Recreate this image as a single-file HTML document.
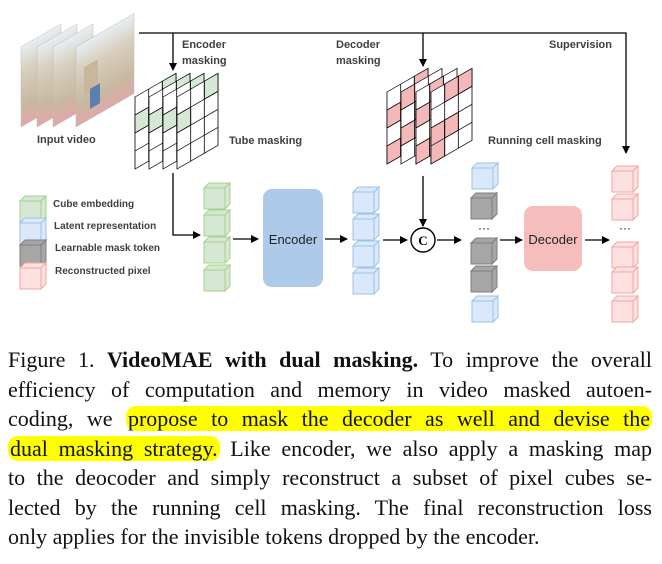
<!DOCTYPE html>
<html><head><meta charset="utf-8"><style>
body{margin:0;width:662px;height:564px;background:#fff;overflow:hidden;position:relative}
svg{position:absolute;left:0;top:0}
.lbl{font-family:"Liberation Sans",sans-serif;font-size:11px;font-weight:bold;fill:#404040}
.cap{position:absolute;left:8px;width:644px;font-family:"Liberation Serif",serif;font-size:22px;color:#111}
.ln{height:29.5px;line-height:29.5px;text-align:justify;text-align-last:justify;white-space:nowrap}
.hl{background:#ffff00;border-radius:10px;padding:0 2px}
</style></head><body>
<svg width="662" height="335" viewBox="0 0 662 335">
<defs>
<symbol id="cube" overflow="visible"><rect x="0" y="5" width="21" height="21"/><polygon points="0,5 5,0 26,0 21,5"/><polygon points="21,5 26,0 26,21 21,26"/></symbol>
<linearGradient id="vg" x1="0" y1="0" x2="0" y2="1"><stop offset="0" stop-color="#e8eef5"/><stop offset="0.3" stop-color="#d8d0c0"/><stop offset="0.75" stop-color="#c8b8a0"/><stop offset="1" stop-color="#e0a8a8"/></linearGradient>
<marker id="ar" markerWidth="8" markerHeight="8" refX="7" refY="4" orient="auto" markerUnits="userSpaceOnUse"><path d="M0,0 L8,4 L0,8 z" fill="#000"/></marker>
</defs>
<g transform="translate(21,127) skewY(-30)"><rect x="0" y="-80" width="40" height="80" fill="url(#vg)" stroke="#bbb" stroke-width="0.5"/></g>
<g transform="translate(37,127) skewY(-30)"><rect x="0" y="-80" width="40" height="80" fill="url(#vg)" stroke="#bbb" stroke-width="0.5"/></g>
<g transform="translate(53,127) skewY(-30)"><rect x="0" y="-80" width="40" height="80" fill="url(#vg)" stroke="#bbb" stroke-width="0.5"/></g>
<g transform="translate(76,127) skewY(-30)"><rect x="0" y="-80" width="58" height="80" fill="url(#vg)" stroke="#bbb" stroke-width="0.5"/><rect x="8" y="-55" width="14" height="30" fill="#c9b79a"/><rect x="14" y="-30" width="10" height="20" fill="#5a7fb0"/></g>
<text class="lbl" x="37" y="143">Input video</text>
<path d="M139,33 H626 V153" fill="none" stroke="#000" stroke-width="1.3" marker-end="url(#ar)"/>
<path d="M173,33 V70" stroke="#000" stroke-width="1.3" marker-end="url(#ar)"/>
<path d="M423,33 V66" stroke="#000" stroke-width="1.3" marker-end="url(#ar)"/>
<text class="lbl" x="182" y="48">Encoder</text><text class="lbl" x="182" y="64">masking</text>
<text class="lbl" x="336" y="48">Decoder</text><text class="lbl" x="336" y="64">masking</text>
<text class="lbl" x="549" y="48">Supervision</text>
<text class="lbl" x="229" y="144">Tube masking</text>
<text class="lbl" x="488" y="144">Running cell masking</text>
<g stroke="#000" stroke-width="0.8">
<g transform="translate(135,97) skewY(-30)"><rect width="41" height="72" fill="#fff"/><rect x="27.3" y="0" width="13.7" height="18" fill="#d5e8d4"/><rect x="0" y="18" width="13.7" height="18" fill="#d5e8d4"/><path d="M13.7,0V72M27.3,0V72M0,18H41M0,36H41M0,54H41" fill="none"/></g>
<g transform="translate(149,97) skewY(-30)"><rect width="41" height="72" fill="#fff"/><rect x="27.3" y="0" width="13.7" height="18" fill="#d5e8d4"/><rect x="0" y="18" width="13.7" height="18" fill="#d5e8d4"/><path d="M13.7,0V72M27.3,0V72M0,18H41M0,36H41M0,54H41" fill="none"/></g>
<g transform="translate(163,97) skewY(-30)"><rect width="41" height="72" fill="#fff"/><rect x="27.3" y="0" width="13.7" height="18" fill="#d5e8d4"/><rect x="0" y="18" width="13.7" height="18" fill="#d5e8d4"/><path d="M13.7,0V72M27.3,0V72M0,18H41M0,36H41M0,54H41" fill="none"/></g>
<g transform="translate(177,97) skewY(-30)"><rect width="41" height="72" fill="#fff"/><rect x="27.3" y="0" width="13.7" height="18" fill="#d5e8d4"/><rect x="0" y="18" width="13.7" height="18" fill="#d5e8d4"/><path d="M13.7,0V72M27.3,0V72M0,18H41M0,36H41M0,54H41" fill="none"/></g>
</g>
<g stroke="#000" stroke-width="0.8">
<g transform="translate(387,92) skewY(-30)"><rect width="41" height="72" fill="#fff"/><rect x="0" y="18" width="13.7" height="18" fill="#f4b8b8"/><rect x="0" y="54" width="13.7" height="18" fill="#f4b8b8"/><rect x="27.3" y="0" width="13.7" height="18" fill="#f4b8b8"/><rect x="27.3" y="36" width="13.7" height="18" fill="#f4b8b8"/><path d="M13.7,0V72M27.3,0V72M0,18H41M0,36H41M0,54H41" fill="none"/></g>
<g transform="translate(401,92) skewY(-30)"><rect width="41" height="72" fill="#fff"/><rect x="0" y="0" width="13.7" height="18" fill="#f4b8b8"/><rect x="0" y="36" width="13.7" height="18" fill="#f4b8b8"/><rect x="13.7" y="18" width="13.7" height="18" fill="#f4b8b8"/><rect x="27.3" y="54" width="13.7" height="18" fill="#f4b8b8"/><path d="M13.7,0V72M27.3,0V72M0,18H41M0,36H41M0,54H41" fill="none"/></g>
<g transform="translate(416,92) skewY(-30)"><rect width="41" height="72" fill="#fff"/><rect x="0" y="18" width="13.7" height="18" fill="#f4b8b8"/><rect x="0" y="54" width="13.7" height="18" fill="#f4b8b8"/><rect x="13.7" y="0" width="13.7" height="18" fill="#f4b8b8"/><rect x="27.3" y="36" width="13.7" height="18" fill="#f4b8b8"/><path d="M13.7,0V72M27.3,0V72M0,18H41M0,36H41M0,54H41" fill="none"/></g>
<g transform="translate(431,92) skewY(-30)"><rect width="41" height="72" fill="#fff"/><rect x="0" y="36" width="13.7" height="36" fill="#f4b8b8"/><rect x="13.7" y="0" width="13.7" height="18" fill="#f4b8b8"/><rect x="27.3" y="0" width="13.7" height="18" fill="#f4b8b8"/><rect x="13.7" y="36" width="13.7" height="18" fill="#f4b8b8"/><path d="M13.7,0V72M27.3,0V72M0,18H41M0,36H41M0,54H41" fill="none"/></g>
</g>
<g fill="#d5e8d4" stroke="#a9d08e"><use href="#cube" x="20" y="196"/></g>
<g fill="#dae8fc" stroke="#9dc3e6"><use href="#cube" x="20" y="218"/></g>
<g fill="#a6a6a6" stroke="#808080"><use href="#cube" x="20" y="240"/></g>
<g fill="#fde0e0" stroke="#f4a6a6"><use href="#cube" x="20" y="263"/></g>
<text class="lbl" x="53" y="207" style="font-size:10px">Cube embedding</text>
<text class="lbl" x="54" y="229" style="font-size:10px">Latent representation</text>
<text class="lbl" x="55" y="251" style="font-size:10px">Learnable mask token</text>
<text class="lbl" x="55" y="274" style="font-size:10px">Reconstructed pixel</text>
<g fill="#d5e8d4" stroke="#a9d08e"><use href="#cube" x="204" y="183"/><use href="#cube" x="204" y="210"/><use href="#cube" x="204" y="237"/><use href="#cube" x="204" y="265"/></g>
<path d="M173,173 V235 H200" fill="none" stroke="#000" stroke-width="1.3" marker-end="url(#ar)"/>
<path d="M233,239 H258" stroke="#000" stroke-width="1.3" marker-end="url(#ar)"/>
<rect x="263" y="189" width="60" height="98" rx="9" fill="#adcbe8"/>
<text x="293" y="244" text-anchor="middle" font-family="Liberation Sans,sans-serif" font-size="13" fill="#222">Encoder</text>
<path d="M325,239 H347" stroke="#000" stroke-width="1.3" marker-end="url(#ar)"/>
<g fill="#dae8fc" stroke="#9dc3e6"><use href="#cube" x="353" y="187"/><use href="#cube" x="353" y="214"/><use href="#cube" x="353" y="241"/><use href="#cube" x="353" y="268"/></g>
<path d="M383,240 H407" stroke="#000" stroke-width="1.3" marker-end="url(#ar)"/>
<path d="M423,176 V226" stroke="#000" stroke-width="1.3" marker-end="url(#ar)"/>
<circle cx="423" cy="240" r="12" fill="#fff" stroke="#000" stroke-width="1.4"/>
<text x="423" y="245" text-anchor="middle" font-family="Liberation Serif,serif" font-weight="bold" font-size="13">C</text>
<path d="M437,240 H461" stroke="#000" stroke-width="1.3" marker-end="url(#ar)"/>
<g fill="#dae8fc" stroke="#9dc3e6"><use href="#cube" x="472" y="163"/><use href="#cube" x="472" y="296"/></g>
<g fill="#a6a6a6" stroke="#808080"><use href="#cube" x="471" y="193"/><use href="#cube" x="471" y="238"/><use href="#cube" x="471" y="266"/></g>
<text x="484" y="232" text-anchor="middle" font-family="Liberation Sans,sans-serif" font-size="12">···</text>
<path d="M500,240 H522" stroke="#000" stroke-width="1.3" marker-end="url(#ar)"/>
<rect x="524" y="206" width="58" height="65" rx="9" fill="#f6bdbd"/>
<text x="553" y="244" text-anchor="middle" font-family="Liberation Sans,sans-serif" font-size="13" fill="#222">Decoder</text>
<path d="M585,240 H609" stroke="#000" stroke-width="1.3" marker-end="url(#ar)"/>
<g fill="#fde0e0" stroke="#f4a6a6"><use href="#cube" x="612" y="166"/><use href="#cube" x="612" y="194"/><use href="#cube" x="612" y="242"/><use href="#cube" x="612" y="267"/><use href="#cube" x="612" y="296"/></g>
<text x="625" y="232" text-anchor="middle" font-family="Liberation Sans,sans-serif" font-size="12">···</text>
</svg>
<div class="cap" style="top:345px">
<div class="ln">Figure 1. <b>VideoMAE with dual masking.</b> To improve the overall</div>
<div class="ln">efficiency of computation and memory in video masked autoen-</div>
<div class="ln">coding, we <span class="hl">propose to mask the decoder as well and devise the</span></div>
<div class="ln"><span class="hl">dual masking strategy.</span> Like encoder, we also apply a masking map</div>
<div class="ln">to the deocoder and simply reconstruct a subset of pixel cubes se-</div>
<div class="ln">lected by the running cell masking. The final reconstruction loss</div>
<div class="ln" style="text-align-last:left">only applies for the invisible tokens dropped by the encoder.</div>
</div>
</body></html>
